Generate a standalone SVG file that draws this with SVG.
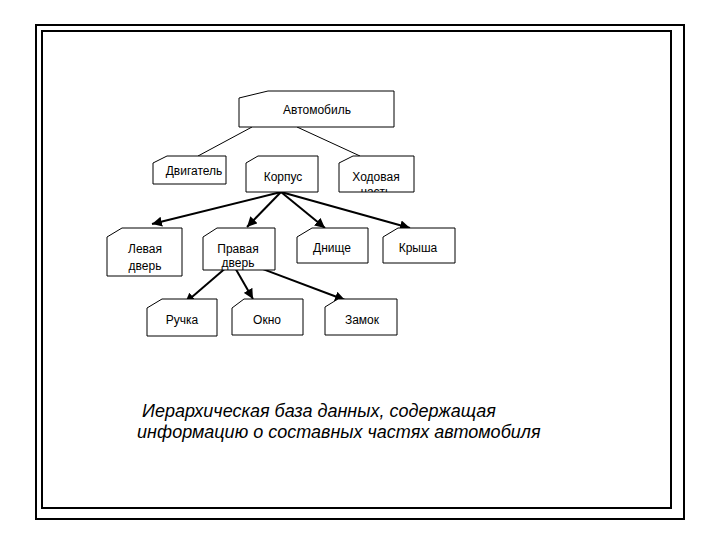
<svg xmlns="http://www.w3.org/2000/svg" width="720" height="540" viewBox="0 0 720 540">
<defs>
<style>
.frame{fill:none;stroke:#000;stroke-width:2}
.box{fill:#fff;stroke:#000;stroke-width:1}
.t{font-family:"Liberation Sans",Arial,sans-serif;font-size:12px;fill:#000;text-anchor:middle}
.cap{font-family:"Liberation Sans",Arial,sans-serif;font-size:18px;font-style:italic;fill:#000}
.thin{stroke:#000;stroke-width:1;fill:none}
.arr{stroke:#000;stroke-width:2;fill:none;marker-end:url(#ah)}
</style>
<marker id="ah" viewBox="0 0 10 10" refX="10" refY="5" markerWidth="5" markerHeight="5" orient="auto" markerUnits="strokeWidth">
<path d="M0,0 L10,5 L0,10 z" fill="#000"/>
</marker>
<clipPath id="clipH"><rect x="339" y="156" width="75" height="36"/></clipPath>
</defs>
<rect width="720" height="540" fill="#fff"/>
<g id="frame">
<rect class="frame" x="36" y="25" width="648" height="494"/>
<rect class="frame" x="42" y="31" width="629" height="477"/>
</g>
<g id="connectors">
<line class="thin" x1="252" y1="127" x2="198" y2="156"/>
<line class="thin" x1="297" y1="127" x2="360" y2="156"/>
<line class="arr" x1="281" y1="192" x2="152" y2="224"/>
<line class="arr" x1="281" y1="192" x2="247" y2="227"/>
<line class="arr" x1="281" y1="192" x2="325" y2="228"/>
<line class="arr" x1="281" y1="192" x2="410" y2="228"/>
<line class="arr" x1="228" y1="266" x2="185" y2="303"/>
<line class="arr" x1="234" y1="266" x2="253" y2="299"/>
<line class="arr" x1="252" y1="265" x2="345" y2="300"/>
</g>
<g id="n-avto">
<polygon class="box" points="239,98 268,91 394,91 394,127 239,127 239,98"/>
<text class="t" x="317" y="114">Автомобиль</text>
</g>
<g id="n-dvig">
<polygon class="box" points="153,163 167,156 226,156 226,184 153,184"/>
<text class="t" x="194" y="175">Двигатель</text>
</g>
<g id="n-korpus">
<polygon class="box" points="246,163 258,156 318,156 318,192 246,192"/>
<text class="t" x="283" y="181">Корпус</text>
</g>
<g id="n-hod">
<polygon class="box" points="339,163 353,156 414,156 414,192 339,192"/>
<text class="t" x="376" y="181">Ходовая</text>
<text class="t" x="376" y="196" clip-path="url(#clipH)">часть</text>
</g>
<g id="n-left">
<polygon class="box" points="107,237 122,228 182,228 182,276 107,276"/>
<text class="t" x="145" y="253">Левая</text>
<text class="t" x="145" y="270">дверь</text>
</g>
<g id="n-right">
<polygon class="box" points="203,237 217,228 275,228 275,270 203,270"/>
<text class="t" x="238" y="253">Правая</text>
<text class="t" x="238" y="267">дверь</text>
</g>
<g id="n-dnische">
<polygon class="box" points="297,237 312,228 368,228 368,263 297,263"/>
<text class="t" x="332" y="252">Днище</text>
</g>
<g id="n-krysha">
<polygon class="box" points="383,237 398,228 455,228 455,263 383,263"/>
<text class="t" x="418" y="252">Крыша</text>
</g>
<g id="n-ruchka">
<polygon class="box" points="147,308 162,299 217,299 217,336 147,336"/>
<text class="t" x="182" y="324">Ручка</text>
</g>
<g id="n-okno">
<polygon class="box" points="232,308 244,299 303,299 303,335 232,335"/>
<text class="t" x="267" y="324">Окно</text>
</g>
<g id="n-zamok">
<polygon class="box" points="325,307 338,299 397,299 397,335 325,335"/>
<text class="t" x="362" y="324">Замок</text>
</g>
<g id="caption">
<text class="cap" x="142" y="417">Иерархическая база данных, содержащая</text>
<text class="cap" x="137" y="438">информацию о составных частях автомобиля</text>
</g>
</svg>
